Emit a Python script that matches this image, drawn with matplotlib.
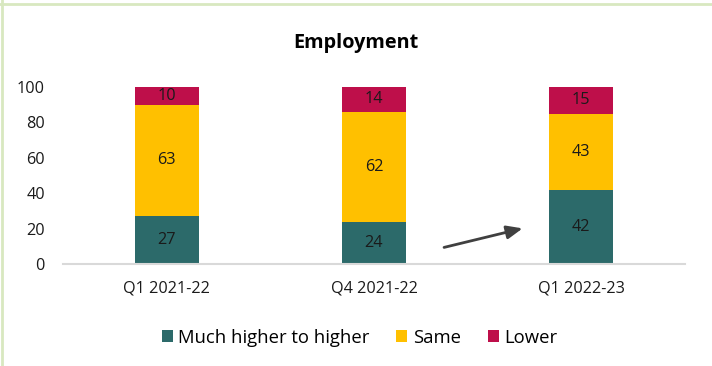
import matplotlib
matplotlib.use("Agg")
import matplotlib.pyplot as plt
from matplotlib.lines import Line2D
from matplotlib.patches import Patch

plt.rcParams['font.family'] = ['Open Sans', 'DejaVu Sans']

categories = ["Q1 2021-22", "Q4 2021-22", "Q1 2022-23"]
higher = [27, 24, 42]
same = [63, 62, 43]
lower = [10, 14, 15]
series_names = ["Much higher to higher", "Same", "Lower"]
colors = ["#2C6A6A", "#FFC000", "#BE0F4A"]
yticks = [0, 20, 40, 60, 80, 100]

fig = plt.figure(figsize=(7.12, 3.66), dpi=100)
ax = fig.add_axes([0.0885, 0.2787, 0.8735, 0.4836])

x = list(range(len(categories)))
w = 0.31
bottoms = [0] * len(x)
for vals, c, name in zip([higher, same, lower], colors, series_names):
    ax.bar(x, vals, width=w, bottom=bottoms, color=c, label=name, zorder=2)
    for xi, v, b in zip(x, vals, bottoms):
        ax.text(xi, b + v / 2, str(v), ha="center", va="center", fontsize=11.7, color="#1a1a1a")
    bottoms = [b + v for b, v in zip(bottoms, vals)]

ax.set_xlim(-0.5, 2.5)
ax.set_ylim(0, 100)
ax.set_yticks(yticks)
ax.set_yticklabels([str(t) for t in yticks], fontsize=11.7)
ax.set_xticks(x)
ax.set_xticklabels(categories, fontsize=11.7)
ax.tick_params(axis="both", length=0, colors="#1a1a1a")
ax.tick_params(axis="y", pad=13)
ax.tick_params(axis="x", pad=12)
for s in ["top", "right", "left"]:
    ax.spines[s].set_visible(False)
ax.spines["bottom"].set_color("#D9D9D9")
ax.spines["bottom"].set_linewidth(1.5)

ax.annotate("", xy=(1.73, 20.5), xytext=(1.325, 9),
            arrowprops=dict(arrowstyle="-|>,head_length=0.95,head_width=0.4",
                            color="#404040", lw=2))

fig.text(0.5, 0.883, "Employment", ha="center", va="center", fontsize=14.3, fontweight="bold")

handles = [Patch(facecolor=c, edgecolor="none") for c in colors]
fig.legend(handles, series_names, loc="center", bbox_to_anchor=(0.505, 0.077), ncol=3,
           frameon=False, fontsize=13.3, handlelength=0.6, handleheight=0.6,
           handletextpad=0.3, columnspacing=1.45)

# border lines (top and left)
fig.add_artist(Line2D([0, 1], [1 - 3.5 / 366] * 2, transform=fig.transFigure, color="#D8E8C0", lw=2))
fig.add_artist(Line2D([1.5 / 712] * 2, [0, 1], transform=fig.transFigure, color="#D8E8C0", lw=2))

fig.savefig("out.png", dpi=100)
